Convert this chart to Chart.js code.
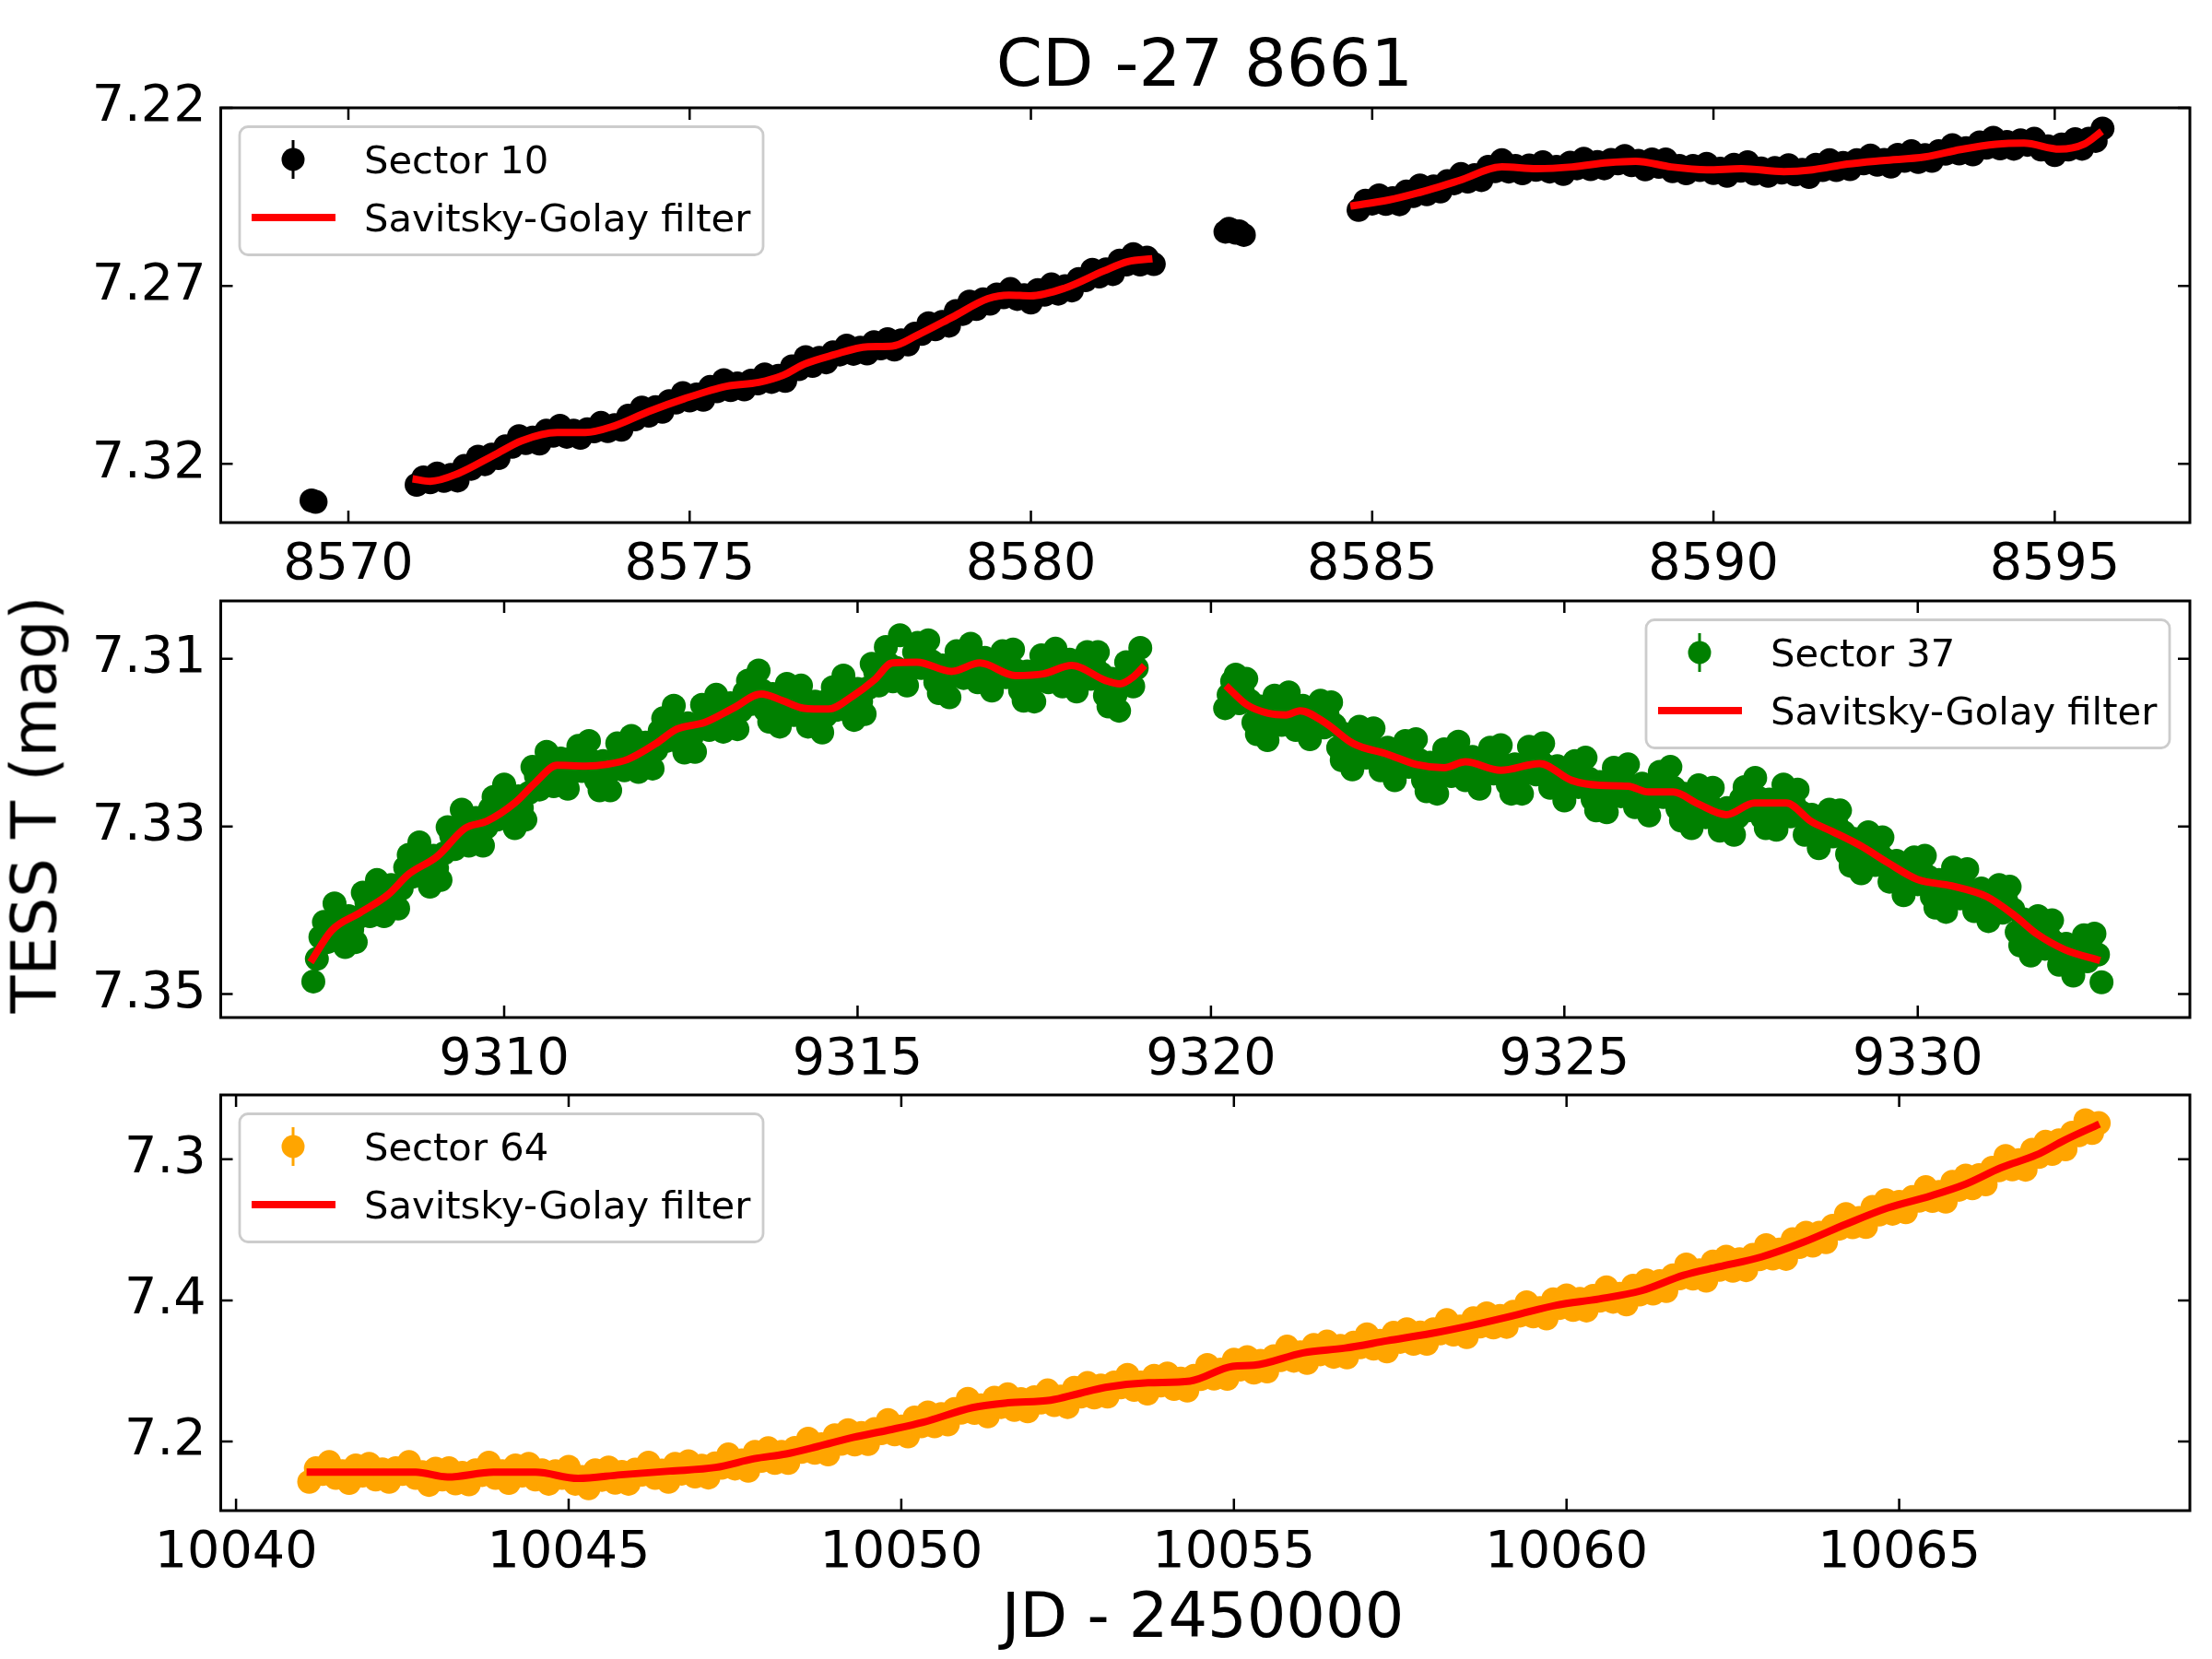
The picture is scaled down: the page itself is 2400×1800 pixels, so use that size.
<!DOCTYPE html>
<html>
<head>
<meta charset="utf-8">
<script src="https://cdn.jsdelivr.net/npm/chart.js@4.4.1/dist/chart.umd.min.js"></script>
<style>
    body { margin: 0; background: #fff; width: 2400px; height: 1800px; position: relative; overflow: hidden; font-family: "DejaVu Sans"; }
    canvas { position: absolute; left: 0; }
    .txt { position: absolute; white-space: nowrap; color: #000; line-height: 1; font-family: "DejaVu Sans"; }
    #title { font-size: 72px; left: 1307px; top: 32px; transform: translateX(-50%); }
    #xlabel { font-size: 67px; left: 1305px; top: 1720px; transform: translateX(-50%); }
    #ylabel { font-size: 67px; left: 38px; top: 873px; transform: translate(-50%, -50%) rotate(-90deg); }
</style>
</head>
<body>
<div class="txt" id="title">CD -27 8661</div>
<canvas id="c10"></canvas>
<canvas id="c37"></canvas>
<canvas id="c64"></canvas>
<div class="txt" id="ylabel">TESS T (mag)</div>
<div class="txt" id="xlabel">JD - 2450000</div>
<script>
// ---- Sector 10 ----
const s10Time = [8569.46, 8569.52,
    8571.0, 8571.1, 8571.2, 8571.3, 8571.4, 8571.5, 8571.6, 8571.7, 8571.8, 8571.9,
    8572.0, 8572.1, 8572.2, 8572.3, 8572.4, 8572.5, 8572.6, 8572.7, 8572.8, 8572.9,
    8573.0, 8573.1, 8573.2, 8573.3, 8573.4, 8573.5, 8573.6, 8573.7, 8573.8, 8573.9,
    8574.0, 8574.1, 8574.2, 8574.3, 8574.4, 8574.5, 8574.6, 8574.7, 8574.8, 8574.9,
    8575.0, 8575.1, 8575.2, 8575.3, 8575.4, 8575.5, 8575.6, 8575.7, 8575.8, 8575.9,
    8576.0, 8576.1, 8576.2, 8576.3, 8576.4, 8576.5, 8576.6, 8576.7, 8576.8, 8576.9,
    8577.0, 8577.1, 8577.2, 8577.3, 8577.4, 8577.5, 8577.6, 8577.7, 8577.8, 8577.9,
    8578.0, 8578.1, 8578.2, 8578.3, 8578.4, 8578.5, 8578.6, 8578.7, 8578.8, 8578.9,
    8579.0, 8579.1, 8579.2, 8579.3, 8579.4, 8579.5, 8579.6, 8579.7, 8579.8, 8579.9,
    8580.0, 8580.1, 8580.2, 8580.3, 8580.4, 8580.5, 8580.6, 8580.7, 8580.8, 8580.9,
    8581.0, 8581.1, 8581.2, 8581.3, 8581.4, 8581.5, 8581.6, 8581.7, 8581.8,
    8582.85, 8582.90, 8582.95, 8583.00, 8583.05, 8583.12,
    8584.8, 8584.9,
    8585.0, 8585.1, 8585.2, 8585.3, 8585.4, 8585.5, 8585.6, 8585.7, 8585.8, 8585.9,
    8586.0, 8586.1, 8586.2, 8586.3, 8586.4, 8586.5, 8586.6, 8586.7, 8586.8, 8586.9,
    8587.0, 8587.1, 8587.2, 8587.3, 8587.4, 8587.5, 8587.6, 8587.7, 8587.8, 8587.9,
    8588.0, 8588.1, 8588.2, 8588.3, 8588.4, 8588.5, 8588.6, 8588.7, 8588.8, 8588.9,
    8589.0, 8589.1, 8589.2, 8589.3, 8589.4, 8589.5, 8589.6, 8589.7, 8589.8, 8589.9,
    8590.0, 8590.1, 8590.2, 8590.3, 8590.4, 8590.5, 8590.6, 8590.7, 8590.8, 8590.9,
    8591.0, 8591.1, 8591.2, 8591.3, 8591.4, 8591.5, 8591.6, 8591.7, 8591.8, 8591.9,
    8592.0, 8592.1, 8592.2, 8592.3, 8592.4, 8592.5, 8592.6, 8592.7, 8592.8, 8592.9,
    8593.0, 8593.1, 8593.2, 8593.3, 8593.4, 8593.5, 8593.6, 8593.7, 8593.8, 8593.9,
    8594.0, 8594.1, 8594.2, 8594.3, 8594.4, 8594.5, 8594.6, 8594.7, 8594.8, 8594.9,
    8595.0, 8595.1, 8595.2, 8595.3, 8595.4, 8595.5, 8595.6, 8595.7];
const s10Mag = [7.3303, 7.3307,
    7.3259, 7.3238, 7.3252, 7.3227, 7.3248, 7.3231, 7.3247, 7.3206, 7.3214, 7.3180,
    7.3201, 7.3174, 7.3184, 7.3151, 7.3152, 7.3122, 7.3142, 7.3126, 7.3143, 7.3107,
    7.3121, 7.3093, 7.3124, 7.3107, 7.3127, 7.3103, 7.3109, 7.3085, 7.3108, 7.3091,
    7.3104, 7.3065, 7.3075, 7.3042, 7.3065, 7.3041, 7.3054, 7.3024, 7.3028, 7.3001,
    7.3022, 7.3005, 7.3020, 7.2984, 7.2996, 7.2965, 7.2993, 7.2974, 7.2991, 7.2966,
    7.2974, 7.2949, 7.2970, 7.2953, 7.2967, 7.2926, 7.2934, 7.2900, 7.2925, 7.2902,
    7.2915, 7.2887, 7.2893, 7.2868, 7.2891, 7.2874, 7.2890, 7.2858, 7.2876, 7.2850,
    7.2879, 7.2853, 7.2865, 7.2834, 7.2835, 7.2805, 7.2822, 7.2801, 7.2812, 7.2771,
    7.2779, 7.2744, 7.2765, 7.2738, 7.2750, 7.2724, 7.2732, 7.2709, 7.2737, 7.2726,
    7.2747, 7.2712, 7.2725, 7.2696, 7.2722, 7.2701, 7.2713, 7.2681, 7.2684, 7.2655,
    7.2674, 7.2654, 7.2667, 7.2629, 7.2640, 7.2611, 7.2640, 7.2621, 7.2639,
    7.2548, 7.2540, 7.2544, 7.2551, 7.2547, 7.2557,
    7.2487, 7.2461,
    7.2469, 7.2446, 7.2470, 7.2454, 7.2471, 7.2435, 7.2448, 7.2418, 7.2443, 7.2421,
    7.2435, 7.2406, 7.2412, 7.2386, 7.2407, 7.2389, 7.2403, 7.2366, 7.2378, 7.2347,
    7.2379, 7.2363, 7.2384, 7.2362, 7.2374, 7.2353, 7.2379, 7.2366, 7.2386, 7.2354,
    7.2370, 7.2343, 7.2372, 7.2352, 7.2370, 7.2346, 7.2356, 7.2335, 7.2361, 7.2349,
    7.2373, 7.2345, 7.2366, 7.2345, 7.2378, 7.2363, 7.2384, 7.2363, 7.2375, 7.2357,
    7.2383, 7.2371, 7.2391, 7.2360, 7.2377, 7.2353, 7.2385, 7.2370, 7.2391, 7.2369,
    7.2382, 7.2361, 7.2387, 7.2374, 7.2394, 7.2360, 7.2375, 7.2347, 7.2375, 7.2355,
    7.2372, 7.2347, 7.2356, 7.2334, 7.2360, 7.2346, 7.2365, 7.2332, 7.2349, 7.2322,
    7.2352, 7.2333, 7.2349, 7.2322, 7.2329, 7.2305, 7.2328, 7.2313, 7.2331, 7.2297,
    7.2312, 7.2284, 7.2314, 7.2296, 7.2315, 7.2291, 7.2304, 7.2287, 7.2317, 7.2308,
    7.2333, 7.2303, 7.2317, 7.2288, 7.2315, 7.2287, 7.2293, 7.2258];
const sg10Time = [8570.94, 8571.20, 8571.61, 8572.13, 8572.54, 8573.06, 8573.47, 8573.89, 8574.40, 8574.92,
    8575.54, 8576.01, 8576.37, 8576.68, 8577.09, 8577.61, 8577.97, 8578.33, 8578.85, 8579.37, 8579.68, 8579.99,
    8580.50, 8581.07, 8581.42, 8581.78, 8583.00,
    8584.68, 8585.24, 8585.65, 8586.28, 8586.90, 8587.41, 8587.93, 8588.45, 8588.86, 8589.38, 8589.90, 8590.41,
    8591.03, 8591.45, 8591.96, 8592.48, 8593.10, 8593.62, 8594.14, 8594.55, 8595.07, 8595.43, 8595.69];
const sg10Mag = [7.3242, 7.3249, 7.3227, 7.3176, 7.3135, 7.3112, 7.3112, 7.3094, 7.3053, 7.3017,
    7.2982, 7.2971, 7.2951, 7.2920, 7.2895, 7.2871, 7.2869, 7.2839, 7.2788, 7.2736, 7.2726, 7.2728,
    7.2706, 7.2658, 7.2632, 7.2624, null,
    7.2476, 7.2459, 7.2440, 7.2404, 7.2366, 7.2371, 7.2366, 7.2354, 7.2350, 7.2366, 7.2374, 7.2371,
    7.2379, 7.2374, 7.2358, 7.2348, 7.2338, 7.2317, 7.2302, 7.2299, 7.2316, 7.2302, 7.2266];
const ticks10X = [8570, 8575, 8580, 8585, 8590, 8595];
const ticks10Y = [7.22, 7.27, 7.32];
const labels10Y = ['7.22', '7.27', '7.32'];

// ---- Sector 37 ----
const s37Time = [
    9307.3, 9307.4, 9307.5, 9307.6, 9307.7, 9307.8, 9307.9,
    9308.0, 9308.1, 9308.2, 9308.3, 9308.4, 9308.5, 9308.6, 9308.7, 9308.8, 9308.9,
    9309.0, 9309.1, 9309.2, 9309.3, 9309.4, 9309.5, 9309.6, 9309.7, 9309.8, 9309.9,
    9310.0, 9310.1, 9310.2, 9310.3, 9310.4, 9310.5, 9310.6, 9310.7, 9310.8, 9310.9,
    9311.0, 9311.1, 9311.2, 9311.3, 9311.4, 9311.5, 9311.6, 9311.7, 9311.8, 9311.9,
    9312.0, 9312.1, 9312.2, 9312.3, 9312.4, 9312.5, 9312.6, 9312.7, 9312.8, 9312.9,
    9313.0, 9313.1, 9313.2, 9313.3, 9313.4, 9313.5, 9313.6, 9313.7, 9313.8, 9313.9,
    9314.0, 9314.1, 9314.2, 9314.3, 9314.4, 9314.5, 9314.6, 9314.7, 9314.8, 9314.9,
    9315.0, 9315.1, 9315.2, 9315.3, 9315.4, 9315.5, 9315.6, 9315.7, 9315.8, 9315.9,
    9316.0, 9316.1, 9316.2, 9316.3, 9316.4, 9316.5, 9316.6, 9316.7, 9316.8, 9316.9,
    9317.0, 9317.1, 9317.2, 9317.3, 9317.4, 9317.5, 9317.6, 9317.7, 9317.8, 9317.9,
    9318.0, 9318.1, 9318.2, 9318.3, 9318.4, 9318.5, 9318.6, 9318.7, 9318.8, 9318.9,
    9319.0,
    9320.2, 9320.3, 9320.4, 9320.5, 9320.6, 9320.7, 9320.8, 9320.9,
    9321.0, 9321.1, 9321.2, 9321.3, 9321.4, 9321.5, 9321.6, 9321.7, 9321.8, 9321.9,
    9322.0, 9322.1, 9322.2, 9322.3, 9322.4, 9322.5, 9322.6, 9322.7, 9322.8, 9322.9,
    9323.0, 9323.1, 9323.2, 9323.3, 9323.4, 9323.5, 9323.6, 9323.7, 9323.8, 9323.9,
    9324.0, 9324.1, 9324.2, 9324.3, 9324.4, 9324.5, 9324.6, 9324.7, 9324.8, 9324.9,
    9325.0, 9325.1, 9325.2, 9325.3, 9325.4, 9325.5, 9325.6, 9325.7, 9325.8, 9325.9,
    9326.0, 9326.1, 9326.2, 9326.3, 9326.4, 9326.5, 9326.6, 9326.7, 9326.8, 9326.9,
    9327.0, 9327.1, 9327.2, 9327.3, 9327.4, 9327.5, 9327.6, 9327.7, 9327.8, 9327.9,
    9328.0, 9328.1, 9328.2, 9328.3, 9328.4, 9328.5, 9328.6, 9328.7, 9328.8, 9328.9,
    9329.0, 9329.1, 9329.2, 9329.3, 9329.4, 9329.5, 9329.6, 9329.7, 9329.8, 9329.9,
    9330.0, 9330.1, 9330.2, 9330.3, 9330.4, 9330.5, 9330.6, 9330.7, 9330.8, 9330.9,
    9331.0, 9331.1, 9331.2, 9331.3, 9331.4, 9331.5, 9331.6, 9331.7, 9331.8, 9331.9,
    9332.0, 9332.1, 9332.2, 9332.3, 9332.4, 9332.5, 9332.6];
const s37Mag = [
    7.3485, 7.3432, 7.3438, 7.3392, 7.3435, 7.3407, 7.3438,
    7.3379, 7.3407, 7.3364, 7.3407, 7.3370, 7.3398, 7.3349, 7.3360, 7.3319, 7.3362,
    7.3335, 7.3364, 7.3301, 7.3327, 7.3280, 7.3323, 7.3290, 7.3323, 7.3279, 7.3292,
    7.3250, 7.3293, 7.3264, 7.3292, 7.3229, 7.3256, 7.3211, 7.3252, 7.3219, 7.3255,
    7.3216, 7.3234, 7.3198, 7.3245, 7.3222, 7.3257, 7.3201, 7.3233, 7.3192, 7.3235,
    7.3200, 7.3231, 7.3186, 7.3198, 7.3156, 7.3201, 7.3177, 7.3211, 7.3155, 7.3185,
    7.3143, 7.3187, 7.3153, 7.3184, 7.3140, 7.3154, 7.3114, 7.3162, 7.3142, 7.3181,
    7.3130, 7.3167, 7.3132, 7.3181, 7.3151, 7.3188, 7.3148, 7.3161, 7.3120, 7.3164,
    7.3136, 7.3166, 7.3106, 7.3132, 7.3086, 7.3127, 7.3072, 7.3132, 7.3092, 7.3111,
    7.3078, 7.3128, 7.3108, 7.3146, 7.3091, 7.3123, 7.3082, 7.3128, 7.3099, 7.3138,
    7.3101, 7.3122, 7.3089, 7.3138, 7.3115, 7.3151, 7.3096, 7.3128, 7.3088, 7.3133,
    7.3101, 7.3139, 7.3102, 7.3124, 7.3092, 7.3144, 7.3124, 7.3162, 7.3104, 7.3133,
    7.3087,
    7.3159, 7.3127, 7.3153, 7.3124, 7.3176, 7.3157, 7.3197, 7.3144,
    7.3179, 7.3140, 7.3185, 7.3156, 7.3196, 7.3160, 7.3182, 7.3152, 7.3206, 7.3190,
    7.3232, 7.3181, 7.3218, 7.3183, 7.3233, 7.3206, 7.3245, 7.3208, 7.3229, 7.3196,
    7.3245, 7.3224, 7.3261, 7.3208, 7.3240, 7.3199, 7.3245, 7.3217, 7.3255, 7.3217,
    7.3237, 7.3203, 7.3250, 7.3226, 7.3261, 7.3205, 7.3238, 7.3201, 7.3254, 7.3228,
    7.3269, 7.3233, 7.3253, 7.3218, 7.3268, 7.3247, 7.3283, 7.3230, 7.3264, 7.3226,
    7.3277, 7.3249, 7.3287, 7.3247, 7.3265, 7.3229, 7.3279, 7.3261, 7.3302, 7.3251,
    7.3289, 7.3254, 7.3305, 7.3278, 7.3310, 7.3267, 7.3281, 7.3242, 7.3290, 7.3268,
    7.3304, 7.3250, 7.3288, 7.3256, 7.3310, 7.3286, 7.3326, 7.3290, 7.3312, 7.3281,
    7.3333, 7.3315, 7.3356, 7.3307, 7.3346, 7.3313, 7.3366, 7.3341, 7.3382, 7.3347,
    7.3369, 7.3335, 7.3384, 7.3364, 7.3402, 7.3349, 7.3386, 7.3351, 7.3401, 7.3374,
    7.3413, 7.3379, 7.3403, 7.3372, 7.3426, 7.3411, 7.3454, 7.3407, 7.3446, 7.3412,
    7.3465, 7.3440, 7.3478, 7.3441, 7.3461, 7.3428, 7.3486];
// the cadences that fall between the ones above
const s37TimeB = [
    9307.35, 9307.45, 9307.55, 9307.65, 9307.75, 9307.85, 9307.95,
    9308.05, 9308.15, 9308.25, 9308.35, 9308.45, 9308.55, 9308.65, 9308.75, 9308.85, 9308.95,
    9309.05, 9309.15, 9309.25, 9309.35, 9309.45, 9309.55, 9309.65, 9309.75, 9309.85, 9309.95,
    9310.05, 9310.15, 9310.25, 9310.35, 9310.45, 9310.55, 9310.65, 9310.75, 9310.85, 9310.95,
    9311.05, 9311.15, 9311.25, 9311.35, 9311.45, 9311.55, 9311.65, 9311.75, 9311.85, 9311.95,
    9312.05, 9312.15, 9312.25, 9312.35, 9312.45, 9312.55, 9312.65, 9312.75, 9312.85, 9312.95,
    9313.05, 9313.15, 9313.25, 9313.35, 9313.45, 9313.55, 9313.65, 9313.75, 9313.85, 9313.95,
    9314.05, 9314.15, 9314.25, 9314.35, 9314.45, 9314.55, 9314.65, 9314.75, 9314.85, 9314.95,
    9315.05, 9315.15, 9315.25, 9315.35, 9315.45, 9315.55, 9315.65, 9315.75, 9315.85, 9315.95,
    9316.05, 9316.15, 9316.25, 9316.35, 9316.45, 9316.55, 9316.65, 9316.75, 9316.85, 9316.95,
    9317.05, 9317.15, 9317.25, 9317.35, 9317.45, 9317.55, 9317.65, 9317.75, 9317.85, 9317.95,
    9318.05, 9318.15, 9318.25, 9318.35, 9318.45, 9318.55, 9318.65, 9318.75, 9318.85, 9318.95,
    9320.25, 9320.35, 9320.45, 9320.55, 9320.65, 9320.75, 9320.85, 9320.95,
    9321.05, 9321.15, 9321.25, 9321.35, 9321.45, 9321.55, 9321.65, 9321.75, 9321.85, 9321.95,
    9322.05, 9322.15, 9322.25, 9322.35, 9322.45, 9322.55, 9322.65, 9322.75, 9322.85, 9322.95,
    9323.05, 9323.15, 9323.25, 9323.35, 9323.45, 9323.55, 9323.65, 9323.75, 9323.85, 9323.95,
    9324.05, 9324.15, 9324.25, 9324.35, 9324.45, 9324.55, 9324.65, 9324.75, 9324.85, 9324.95,
    9325.05, 9325.15, 9325.25, 9325.35, 9325.45, 9325.55, 9325.65, 9325.75, 9325.85, 9325.95,
    9326.05, 9326.15, 9326.25, 9326.35, 9326.45, 9326.55, 9326.65, 9326.75, 9326.85, 9326.95,
    9327.05, 9327.15, 9327.25, 9327.35, 9327.45, 9327.55, 9327.65, 9327.75, 9327.85, 9327.95,
    9328.05, 9328.15, 9328.25, 9328.35, 9328.45, 9328.55, 9328.65, 9328.75, 9328.85, 9328.95,
    9329.05, 9329.15, 9329.25, 9329.35, 9329.45, 9329.55, 9329.65, 9329.75, 9329.85, 9329.95,
    9330.05, 9330.15, 9330.25, 9330.35, 9330.45, 9330.55, 9330.65, 9330.75, 9330.85, 9330.95,
    9331.05, 9331.15, 9331.25, 9331.35, 9331.45, 9331.55, 9331.65, 9331.75, 9331.85, 9331.95,
    9332.05, 9332.15, 9332.25, 9332.35, 9332.45, 9332.55];
const s37MagB = [
    7.3458, 7.3414, 7.3415, 7.3414, 7.3444, 7.3423, 7.3408,
    7.3390, 7.3387, 7.3386, 7.3388, 7.3384, 7.3374, 7.3334, 7.3340, 7.3341, 7.3372,
    7.3350, 7.3332, 7.3311, 7.3305, 7.3302, 7.3306, 7.3307, 7.3301, 7.3265, 7.3271,
    7.3272, 7.3302, 7.3278, 7.3260, 7.3240, 7.3235, 7.3232, 7.3235, 7.3237, 7.3236,
    7.3204, 7.3216, 7.3222, 7.3257, 7.3240, 7.3228, 7.3214, 7.3214, 7.3214, 7.3217,
    7.3216, 7.3209, 7.3171, 7.3177, 7.3179, 7.3212, 7.3194, 7.3182, 7.3167, 7.3165,
    7.3165, 7.3169, 7.3169, 7.3162, 7.3126, 7.3134, 7.3138, 7.3175, 7.3162, 7.3155,
    7.3146, 7.3151, 7.3157, 7.3165, 7.3170, 7.3168, 7.3134, 7.3141, 7.3142, 7.3173,
    7.3151, 7.3135, 7.3116, 7.3110, 7.3107, 7.3111, 7.3115, 7.3112, 7.3081, 7.3095,
    7.3103, 7.3141, 7.3127, 7.3118, 7.3104, 7.3104, 7.3105, 7.3113, 7.3119, 7.3120,
    7.3091, 7.3106, 7.3114, 7.3150, 7.3133, 7.3123, 7.3109, 7.3109, 7.3111, 7.3116,
    7.3120, 7.3121, 7.3092, 7.3108, 7.3118, 7.3157, 7.3143, 7.3132, 7.3116, 7.3111,
    7.3143, 7.3119, 7.3139, 7.3150, 7.3190, 7.3177, 7.3170, 7.3159,
    7.3161, 7.3163, 7.3170, 7.3176, 7.3178, 7.3150, 7.3167, 7.3179, 7.3221, 7.3211,
    7.3206, 7.3197, 7.3202, 7.3208, 7.3219, 7.3226, 7.3227, 7.3198, 7.3213, 7.3221,
    7.3258, 7.3243, 7.3234, 7.3221, 7.3221, 7.3222, 7.3230, 7.3236, 7.3236, 7.3206,
    7.3220, 7.3227, 7.3261, 7.3244, 7.3232, 7.3219, 7.3221, 7.3228, 7.3240, 7.3249,
    7.3251, 7.3222, 7.3236, 7.3243, 7.3281, 7.3265, 7.3256, 7.3244, 7.3246, 7.3252,
    7.3262, 7.3268, 7.3267, 7.3235, 7.3247, 7.3254, 7.3293, 7.3282, 7.3276, 7.3267,
    7.3273, 7.3280, 7.3291, 7.3294, 7.3289, 7.3253, 7.3262, 7.3266, 7.3302, 7.3286,
    7.3276, 7.3266, 7.3273, 7.3283, 7.3297, 7.3306, 7.3308, 7.3280, 7.3297, 7.3307,
    7.3347, 7.3336, 7.3331, 7.3324, 7.3331, 7.3340, 7.3353, 7.3362, 7.3365, 7.3337,
    7.3352, 7.3360, 7.3397, 7.3383, 7.3375, 7.3365, 7.3370, 7.3376, 7.3387, 7.3394,
    7.3396, 7.3370, 7.3388, 7.3399, 7.3442, 7.3433, 7.3430, 7.3424, 7.3430, 7.3439,
    7.3452, 7.3459, 7.3460, 7.3430, 7.3445, 7.3453];
const sg37Time = [9307.26, 9307.56, 9307.96, 9308.35, 9308.65, 9309.05, 9309.45, 9309.75, 9310.15, 9310.45,
    9310.75, 9311.15, 9311.45, 9311.75, 9312.15, 9312.44, 9312.84, 9313.24, 9313.64, 9313.94, 9314.24, 9314.59,
    9314.94, 9315.24, 9315.49, 9315.84, 9316.33, 9316.73, 9317.23, 9317.63, 9318.03, 9318.51, 9318.71, 9318.91,
    9319.06, 9319.60,
    9320.21, 9320.51, 9320.81, 9321.06, 9321.26, 9321.61, 9322.01, 9322.50, 9322.90, 9323.30, 9323.60, 9324.10,
    9324.65, 9325.10, 9325.50, 9325.90, 9326.19, 9326.54, 9326.89, 9327.29, 9327.69, 9328.14, 9328.49, 9328.79,
    9329.19, 9329.59, 9329.99, 9330.48, 9330.98, 9331.38, 9331.68, 9332.08, 9332.58];
const sg37Mag = [7.3462, 7.3424, 7.3403, 7.3382, 7.3357, 7.3336, 7.3302, 7.3294, 7.3272, 7.3247,
    7.3227, 7.3228, 7.3226, 7.3220, 7.3201, 7.3184, 7.3176, 7.3159, 7.3142, 7.3150, 7.3159, 7.3160,
    7.3144, 7.3125, 7.3105, 7.3104, 7.3115, 7.3105, 7.3120, 7.3118, 7.3108, 7.3126, 7.3130, 7.3121,
    7.3108, null,
    7.3132, 7.3155, 7.3165, 7.3167, 7.3162, 7.3176, 7.3201, 7.3214, 7.3226, 7.3230, 7.3223, 7.3233,
    7.3225, 7.3245, 7.3251, 7.3252, 7.3259, 7.3259, 7.3273, 7.3286, 7.3272, 7.3272, 7.3294, 7.3306,
    7.3323, 7.3344, 7.3363, 7.3371, 7.3384, 7.3407, 7.3428, 7.3447, 7.3460];
const ticks37X = [9310, 9315, 9320, 9325, 9330];
const ticks37Y = [7.31, 7.33, 7.35];
const labels37Y = ['7.31', '7.33', '7.35'];

// ---- Sector 64 ----
const s64Time = [
    10041.1, 10041.2, 10041.3, 10041.4, 10041.5, 10041.6, 10041.7, 10041.8, 10041.9,
    10042.0, 10042.1, 10042.2, 10042.3, 10042.4, 10042.5, 10042.6, 10042.7, 10042.8, 10042.9,
    10043.0, 10043.1, 10043.2, 10043.3, 10043.4, 10043.5, 10043.6, 10043.7, 10043.8, 10043.9,
    10044.0, 10044.1, 10044.2, 10044.3, 10044.4, 10044.5, 10044.6, 10044.7, 10044.8, 10044.9,
    10045.0, 10045.1, 10045.2, 10045.3, 10045.4, 10045.5, 10045.6, 10045.7, 10045.8, 10045.9,
    10046.0, 10046.1, 10046.2, 10046.3, 10046.4, 10046.5, 10046.6, 10046.7, 10046.8, 10046.9,
    10047.0, 10047.1, 10047.2, 10047.3, 10047.4, 10047.5, 10047.6, 10047.7, 10047.8, 10047.9,
    10048.0, 10048.1, 10048.2, 10048.3, 10048.4, 10048.5, 10048.6, 10048.7, 10048.8, 10048.9,
    10049.0, 10049.1, 10049.2, 10049.3, 10049.4, 10049.5, 10049.6, 10049.7, 10049.8, 10049.9,
    10050.0, 10050.1, 10050.2, 10050.3, 10050.4, 10050.5, 10050.6, 10050.7, 10050.8, 10050.9,
    10051.0, 10051.1, 10051.2, 10051.3, 10051.4, 10051.5, 10051.6, 10051.7, 10051.8, 10051.9,
    10052.0, 10052.1, 10052.2, 10052.3, 10052.4, 10052.5, 10052.6, 10052.7, 10052.8, 10052.9,
    10053.0, 10053.1, 10053.2, 10053.3, 10053.4, 10053.5, 10053.6, 10053.7, 10053.8, 10053.9,
    10054.0, 10054.1, 10054.2, 10054.3, 10054.4, 10054.5, 10054.6, 10054.7, 10054.8, 10054.9,
    10055.0, 10055.1, 10055.2, 10055.3, 10055.4, 10055.5, 10055.6, 10055.7, 10055.8, 10055.9,
    10056.0, 10056.1, 10056.2, 10056.3, 10056.4, 10056.5, 10056.6, 10056.7, 10056.8, 10056.9,
    10057.0, 10057.1, 10057.2, 10057.3, 10057.4, 10057.5, 10057.6, 10057.7, 10057.8, 10057.9,
    10058.0, 10058.1, 10058.2, 10058.3, 10058.4, 10058.5, 10058.6, 10058.7, 10058.8, 10058.9,
    10059.0, 10059.1, 10059.2, 10059.3, 10059.4, 10059.5, 10059.6, 10059.7, 10059.8, 10059.9,
    10060.0, 10060.1, 10060.2, 10060.3, 10060.4, 10060.5, 10060.6, 10060.7, 10060.8, 10060.9,
    10061.0, 10061.1, 10061.2, 10061.3, 10061.4, 10061.5, 10061.6, 10061.7, 10061.8, 10061.9,
    10062.0, 10062.1, 10062.2, 10062.3, 10062.4, 10062.5, 10062.6, 10062.7, 10062.8, 10062.9,
    10063.0, 10063.1, 10063.2, 10063.3, 10063.4, 10063.5, 10063.6, 10063.7, 10063.8, 10063.9,
    10064.0, 10064.1, 10064.2, 10064.3, 10064.4, 10064.5, 10064.6, 10064.7, 10064.8, 10064.9,
    10065.0, 10065.1, 10065.2, 10065.3, 10065.4, 10065.5, 10065.6, 10065.7, 10065.8, 10065.9,
    10066.0, 10066.1, 10066.2, 10066.3, 10066.4, 10066.5, 10066.6, 10066.7, 10066.8, 10066.9,
    10067.0, 10067.1, 10067.2, 10067.3, 10067.4, 10067.5, 10067.6, 10067.7, 10067.8, 10067.9,
    10068.0];
const s64Mag = [
    7.4143, 7.4095, 7.4115, 7.4073, 7.4129, 7.4105, 7.4147, 7.4085, 7.4121,
    7.4079, 7.4135, 7.4099, 7.4143, 7.4095, 7.4115, 7.4073, 7.4129, 7.4109, 7.4154,
    7.4096, 7.4135, 7.4095, 7.4149, 7.4111, 7.4152, 7.4102, 7.4119, 7.4075, 7.4129,
    7.4105, 7.4147, 7.4085, 7.4121, 7.4079, 7.4135, 7.4102, 7.4150, 7.4105, 7.4129,
    7.4090, 7.4150, 7.4126, 7.4166, 7.4102, 7.4136, 7.4092, 7.4146, 7.4108, 7.4150,
    7.4100, 7.4118, 7.4075, 7.4129, 7.4103, 7.4143, 7.4079, 7.4114, 7.4070, 7.4124,
    7.4086, 7.4128, 7.4078, 7.4093, 7.4046, 7.4096, 7.4067, 7.4104, 7.4037, 7.4069,
    7.4024, 7.4076, 7.4037, 7.4076, 7.4023, 7.4037, 7.3990, 7.4040, 7.4010, 7.4046,
    7.3978, 7.4008, 7.3960, 7.4011, 7.3970, 7.4009, 7.3956, 7.3971, 7.3924, 7.3975,
    7.3947, 7.3982, 7.3915, 7.3946, 7.3897, 7.3946, 7.3903, 7.3940, 7.3885, 7.3898,
    7.3849, 7.3899, 7.3872, 7.3911, 7.3845, 7.3878, 7.3833, 7.3888, 7.3850, 7.3893,
    7.3843, 7.3862, 7.3819, 7.3871, 7.3841, 7.3878, 7.3810, 7.3841, 7.3793, 7.3844,
    7.3802, 7.3841, 7.3791, 7.3808, 7.3764, 7.3817, 7.3791, 7.3830, 7.3767, 7.3802,
    7.3759, 7.3814, 7.3777, 7.3820, 7.3767, 7.3779, 7.3729, 7.3777, 7.3745, 7.3778,
    7.3710, 7.3745, 7.3701, 7.3756, 7.3714, 7.3752, 7.3698, 7.3712, 7.3664, 7.3714,
    7.3684, 7.3722, 7.3658, 7.3691, 7.3646, 7.3700, 7.3661, 7.3702, 7.3650, 7.3666,
    7.3620, 7.3671, 7.3643, 7.3681, 7.3615, 7.3647, 7.3602, 7.3654, 7.3614, 7.3654,
    7.3602, 7.3617, 7.3570, 7.3621, 7.3593, 7.3630, 7.3563, 7.3593, 7.3546, 7.3596,
    7.3555, 7.3594, 7.3540, 7.3554, 7.3507, 7.3557, 7.3527, 7.3564, 7.3496, 7.3527,
    7.3482, 7.3534, 7.3495, 7.3536, 7.3484, 7.3501, 7.3454, 7.3505, 7.3477, 7.3514,
    7.3448, 7.3479, 7.3429, 7.3476, 7.3432, 7.3467, 7.3411, 7.3422, 7.3373, 7.3423,
    7.3393, 7.3430, 7.3362, 7.3392, 7.3345, 7.3395, 7.3354, 7.3393, 7.3339, 7.3354,
    7.3304, 7.3352, 7.3320, 7.3353, 7.3283, 7.3311, 7.3260, 7.3306, 7.3260, 7.3294,
    7.3236, 7.3246, 7.3194, 7.3241, 7.3208, 7.3240, 7.3169, 7.3196, 7.3145, 7.3193,
    7.3151, 7.3188, 7.3134, 7.3147, 7.3099, 7.3148, 7.3116, 7.3150, 7.3080, 7.3108,
    7.3058, 7.3103, 7.3056, 7.3089, 7.3030, 7.3039, 7.2988, 7.3036, 7.3003, 7.3037,
    7.2966, 7.2992, 7.2938, 7.2981, 7.2933, 7.2965, 7.2906, 7.2915, 7.2862, 7.2907,
    7.2872];
const sg64Time = [10041.06, 10041.75, 10042.70, 10043.18, 10043.87, 10044.50, 10045.14, 10045.78, 10046.52, 10047.21,
    10047.79, 10048.27, 10048.74, 10049.27, 10049.80, 10050.33, 10051.07, 10051.60, 10052.24, 10052.66, 10053.07,
    10053.71, 10054.34, 10054.98, 10055.30, 10056.04, 10056.67, 10057.31, 10057.95, 10058.58, 10059.22, 10059.85,
    10060.49, 10061.12, 10061.76, 10062.29, 10062.93, 10063.56, 10064.20, 10064.83, 10065.47, 10066.00, 10066.53,
    10067.06, 10067.48, 10068.01];
const sg64Mag = [7.4109, 7.4109, 7.4109, 7.4126, 7.4109, 7.4109, 7.4131, 7.4118, 7.4105, 7.4092,
    7.4061, 7.4044, 7.4018, 7.3986, 7.3960, 7.3932, 7.3880, 7.3863, 7.3854, 7.3831, 7.3808,
    7.3792, 7.3786, 7.3734, 7.3730, 7.3686, 7.3669, 7.3643, 7.3618, 7.3588, 7.3553, 7.3517,
    7.3495, 7.3466, 7.3411, 7.3381, 7.3346, 7.3294, 7.3230, 7.3172, 7.3130, 7.3088, 7.3030,
    7.2985, 7.2933, 7.2875];
const ticks64X = [10040, 10045, 10050, 10055, 10060, 10065];
const ticks64Y = [7.30, 7.35, 7.40];
const labels64Y = ['7.3', '7.4', '7.2'];

const FONT = 'DejaVu Sans';
const TICK_LEN = 13;
const PAD_TOP = 40;
const AXIS_H = 80;

// 坐标框和向内的刻度线
const framePlugin = {
    id: 'frame',
    afterDatasetsDraw(chart) {
        const { ctx, chartArea: a, scales: { x, y } } = chart;
        ctx.save();
        ctx.strokeStyle = '#000';
        ctx.lineWidth = 2.5;
        ctx.beginPath();
        x.ticks.forEach(t => {
            const px = x.getPixelForValue(t.value);
            ctx.moveTo(px, a.bottom); ctx.lineTo(px, a.bottom - TICK_LEN);
            ctx.moveTo(px, a.top); ctx.lineTo(px, a.top + TICK_LEN);
        });
        y.ticks.forEach(t => {
            const py = y.getPixelForValue(t.value);
            ctx.moveTo(a.left, py); ctx.lineTo(a.left + TICK_LEN, py);
            ctx.moveTo(a.right, py); ctx.lineTo(a.right - TICK_LEN, py);
        });
        ctx.stroke();
        ctx.lineWidth = 3;
        ctx.strokeRect(a.left, a.top, a.right - a.left, a.bottom - a.top);
        ctx.restore();
    }
};

// matplotlib 风格的图例框
const sectorLegend = {
    id: 'sectorLegend',
    afterDraw(chart, args, o) {
        const { ctx, chartArea: a } = chart;
        const w = 568, h = 139, r = 9;
        const left = o.side === 'right' ? a.right - 22 - w : a.left + 20.5;
        const top = a.top + 20.5;
        ctx.save();
        ctx.beginPath();
        ctx.moveTo(left + r, top);
        ctx.arcTo(left + w, top, left + w, top + h, r);
        ctx.arcTo(left + w, top + h, left, top + h, r);
        ctx.arcTo(left, top + h, left, top, r);
        ctx.arcTo(left, top, left + w, top, r);
        ctx.closePath();
        ctx.fillStyle = 'rgba(255,255,255,0.8)';
        ctx.fill();
        ctx.strokeStyle = '#cccccc';
        ctx.lineWidth = 2.8;
        ctx.stroke();

        const my = top + 35.5;
        const mx = left + 58;
        ctx.strokeStyle = o.color;
        ctx.lineWidth = 3;
        ctx.beginPath();
        ctx.moveTo(mx, my - 21); ctx.lineTo(mx, my + 21);
        ctx.stroke();
        ctx.fillStyle = o.color;
        ctx.beginPath();
        ctx.arc(mx, my, 12.5, 0, Math.PI * 2);
        ctx.fill();

        const ly = top + 98.6;
        ctx.strokeStyle = '#ff0000';
        ctx.lineWidth = 8;
        ctx.beginPath();
        ctx.moveTo(left + 13, ly); ctx.lineTo(left + 104, ly);
        ctx.stroke();

        ctx.fillStyle = '#000';
        ctx.font = '41.7px "' + FONT + '"';
        ctx.textBaseline = 'alphabetic';
        ctx.textAlign = 'left';
        ctx.fillText(o.label, left + 135, my + 15.2);
        ctx.fillText('Savitsky-Golay filter', left + 135, ly + 15.2);
        ctx.restore();
    }
};

function toPoints(xs, ys) {
    return xs.map((v, i) => ({ x: v, y: ys[i] }));
}

function makePanel(canvas, cfg) {
    const tickFont = { family: FONT, size: 55.6, lineHeight: 1 };
    const pointSets = cfg.series.map(s => ({
        data: toPoints(s[0], s[1]),
        backgroundColor: cfg.color,
        borderColor: cfg.color,
        borderWidth: 0,
        pointRadius: 13,
        order: 1
    }));
    return new Chart(canvas, {
        type: 'scatter',
        data: {
            datasets: [
                {
                    type: 'line',
                    data: toPoints(cfg.sgT, cfg.sgM),
                    borderColor: '#ff0000',
                    borderWidth: 8,
                    pointRadius: 0,
                    fill: false,
                    spanGaps: false,
                    cubicInterpolationMode: 'monotone',
                    order: 0
                },
                ...pointSets
            ]
        },
        options: {
            responsive: false,
            animation: false,
            devicePixelRatio: 1,
            layout: { padding: { top: PAD_TOP, right: 24, left: 0, bottom: 0 } },
            plugins: {
                legend: { display: false },
                tooltip: { enabled: false },
                sectorLegend: { label: cfg.label, color: cfg.color, side: cfg.side }
            },
            scales: {
                x: {
                    type: 'linear',
                    min: cfg.xMin, max: cfg.xMax,
                    afterBuildTicks: s => { s.ticks = cfg.xTicks.map(v => ({ value: v })); },
                    afterFit: s => { s.height = AXIS_H; },
                    grid: { display: false },
                    border: { display: false },
                    ticks: {
                        font: tickFont, color: '#000', padding: 11,
                        maxRotation: 0, autoSkip: false,
                        callback: v => String(v)
                    }
                },
                y: {
                    type: 'linear',
                    reverse: true,
                    min: cfg.yMin, max: cfg.yMax,
                    afterBuildTicks: s => { s.ticks = cfg.yTicks.map(v => ({ value: v })); },
                    afterFit: s => { s.width = 239.5; },
                    grid: { display: false },
                    border: { display: false },
                    ticks: {
                        font: tickFont, color: '#000', padding: 8,
                        autoSkip: false,
                        callback: (v, i) => cfg.yLabels[i]
                    }
                }
            }
        },
        plugins: [framePlugin, sectorLegend]
    });
}

// 把画布放到页面上，让绘图区正好落在 areaTop..areaBottom
function placePanel(id, cfg) {
    const cv = document.getElementById(id);
    let top = cfg.areaTop - PAD_TOP;
    let height = Math.round(cfg.areaBottom - cfg.areaTop + PAD_TOP + AXIS_H);
    const setSize = () => { cv.style.top = top + 'px'; cv.width = 2400; cv.height = height; };
    setSize();
    let chart = makePanel(cv, cfg);
    const dTop = chart.chartArea.top - PAD_TOP;
    const dBot = (height - AXIS_H) - chart.chartArea.bottom;
    if (Math.abs(dTop) > 0.5 || Math.abs(dBot) > 0.5) {
        chart.destroy();
        top -= dTop;
        height = Math.round(height + dTop + dBot);
        setSize();
        chart = makePanel(cv, cfg);
    }
    return chart;
}

placePanel('c10', {
    series: [[s10Time, s10Mag]], sgT: sg10Time, sgM: sg10Mag, color: '#000000', label: 'Sector 10', side: 'left',
    xMin: 8568.13, xMax: 8596.98, yMin: 7.22, yMax: 7.3365,
    xTicks: ticks10X, yTicks: ticks10Y, yLabels: labels10Y,
    areaTop: 117, areaBottom: 567
});
placePanel('c37', {
    series: [[s37Time, s37Mag], [s37TimeB, s37MagB]], sgT: sg37Time, sgM: sg37Mag, color: '#008000', label: 'Sector 37', side: 'right',
    xMin: 9305.99, xMax: 9333.85, yMin: 7.3031, yMax: 7.3528,
    xTicks: ticks37X, yTicks: ticks37Y, yLabels: labels37Y,
    areaTop: 652, areaBottom: 1104
});
placePanel('c64', {
    series: [[s64Time, s64Mag]], sgT: sg64Time, sgM: sg64Mag, color: '#ffa500', label: 'Sector 64', side: 'left',
    xMin: 10039.77, xMax: 10069.37, yMin: 7.2772, yMax: 7.4245,
    xTicks: ticks64X, yTicks: ticks64Y, yLabels: labels64Y,
    areaTop: 1188, areaBottom: 1639
});
</script>
</body>
</html>
